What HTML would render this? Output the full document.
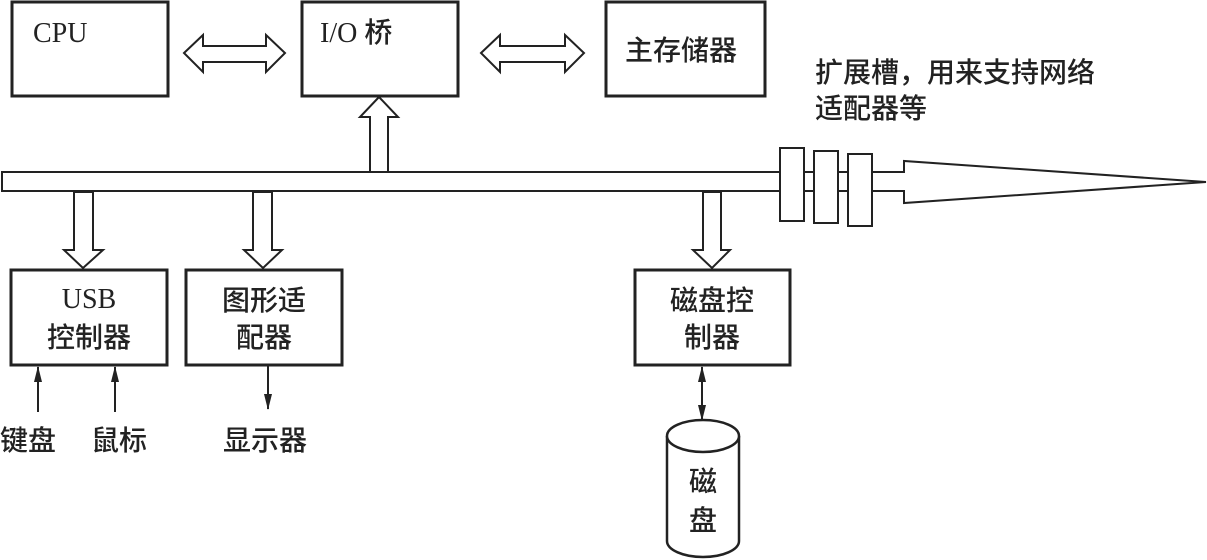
<!DOCTYPE html>
<html><head><meta charset="utf-8"><style>
html,body{margin:0;padding:0;background:#fff;}
svg{display:block;}
text{font-family:"Liberation Serif","Noto Serif CJK SC",serif;fill:#222;}
.c{font-family:"Liberation Sans","Noto Sans CJK SC",sans-serif;font-size:28px;font-weight:500;}
</style></head><body>
<svg width="1207" height="560" viewBox="0 0 1207 560" xmlns="http://www.w3.org/2000/svg">
<defs>
<marker id="ah" viewBox="0 0 16 8" refX="15" refY="4" markerWidth="16" markerHeight="8" orient="auto-start-reverse" markerUnits="userSpaceOnUse"><path d="M0,0 L16,4 L0,8 z" fill="#222"/></marker>
</defs>
<g fill="none" stroke="#222" stroke-width="3">
<rect x="12" y="2" width="156" height="94"/>
<rect x="302" y="2" width="156" height="94"/>
<rect x="606" y="2" width="159" height="94"/>
<rect x="11" y="270" width="156" height="95"/>
<rect x="186" y="270" width="156" height="95"/>
<rect x="635" y="270" width="155" height="95"/>
</g>
<g fill="#fff" stroke="#222" stroke-width="2">
<polygon points="184,53 203,35 203,46 266,46 266,35 285,53 266,72 266,62 203,62 203,72"/>
<polygon points="481,53 500,35 500,46 565,46 565,35 584,53 565,72 565,62 500,62 500,72"/>
<polygon points="2,172 904,172 904,161 1206,182 904,203 904,191 2,191"/>
<rect x="780" y="148" width="24" height="73"/>
<rect x="814" y="151" width="24" height="72"/>
<rect x="848" y="154" width="24" height="72"/>
<polygon points="370,172 370,117 360,117 379,97 398,117 388,117 388,172"/>
<polygon points="74,192 74,250 64,250 83,268 103,250 93,250 93,192"/>
<polygon points="253,192 253,250 244,250 263,268 282,250 272,250 272,192"/>
<polygon points="703,192 703,250 693,250 712,268 730,250 721,250 721,192"/>
</g>
<g stroke="#222" stroke-width="2" fill="none">
<line x1="38" y1="412" x2="38" y2="367" marker-end="url(#ah)"/>
<line x1="115" y1="412" x2="115" y2="367" marker-end="url(#ah)"/>
<line x1="268" y1="366" x2="268" y2="409" marker-end="url(#ah)"/>
<line x1="702" y1="394" x2="702" y2="367" marker-end="url(#ah)"/>
<line x1="702" y1="392" x2="702" y2="420" marker-end="url(#ah)"/>
</g>
<g stroke="#222" stroke-width="2.5" fill="#fff">
<path d="M667,436 L667,541 A36,16 0 0 0 739,541 L739,436"/>
<ellipse cx="703" cy="436" rx="36" ry="16"/>
</g>
<text x="33" y="42" font-size="28">CPU</text>
<text x="320" y="42" font-size="28">I/O <tspan class="c" font-size="27">桥</tspan></text>
<text class="c" x="625" y="60">主存储器</text>
<text class="c" x="815" y="82">扩展槽，用来支持网络</text>
<text class="c" x="815" y="118">适配器等</text>
<text x="89" y="308" font-size="28" text-anchor="middle">USB</text>
<text class="c" x="89" y="347" text-anchor="middle">控制器</text>
<text class="c" x="264" y="310" text-anchor="middle">图形适</text>
<text class="c" x="264" y="347" text-anchor="middle">配器</text>
<text class="c" x="712" y="310" text-anchor="middle">磁盘控</text>
<text class="c" x="712" y="347" text-anchor="middle">制器</text>
<text class="c" x="0" y="450">键盘</text>
<text class="c" x="91" y="450">鼠标</text>
<text class="c" x="223" y="450">显示器</text>
<text class="c" x="703" y="491" text-anchor="middle">磁</text>
<text class="c" x="703" y="530" text-anchor="middle">盘</text>
</svg>
</body></html>
